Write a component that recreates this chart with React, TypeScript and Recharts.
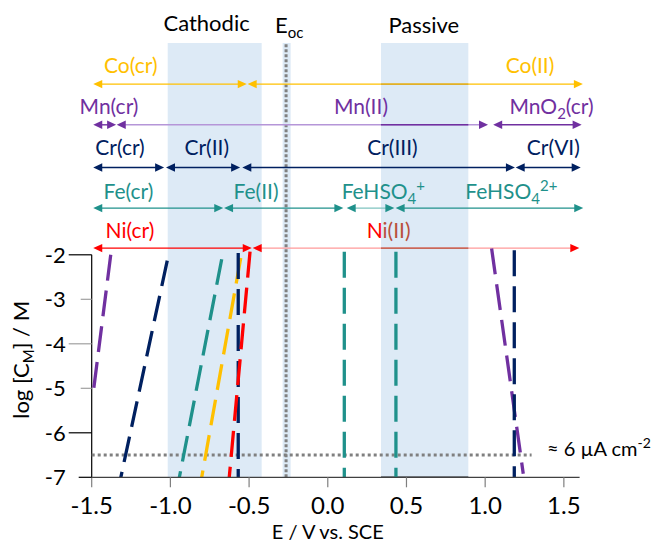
import React from 'react';
import {
  ComposedChart,
  Line,
  XAxis,
  YAxis,
  ReferenceArea,
  ReferenceLine,
  ReferenceDot,
} from 'recharts';

const FONT = 'Lato, "Open Sans", Arial, sans-serif';

// ---------- axes ----------
const potentialTicks = [-1.5, -1.0, -0.5, 0.0, 0.5, 1.0, 1.5];
const logTicks = [-7, -6, -5, -4, -3, -2];
const potentialDomain = [-1.5, 1.6];
const logDomain = [-7, 3.6];

// ---------- solubility boundary lines (E / V vs SCE, log[C_M]) ----------
const mnCrMnII = [
  { E: -1.379, logC: -2.0 },
  { E: -1.494, logC: -5.2 },
];
const crCrCrII = [
  { E: -1.02, logC: -2.13 },
  { E: -1.315, logC: -7.0 },
];
const feCrFeII = [
  { E: -0.674, logC: -2.1 },
  { E: -0.943, logC: -7.0 },
];
const coCrCoII = [
  { E: -0.553, logC: -2.07 },
  { E: -0.801, logC: -7.0 },
];
const crIICrIII = [
  { E: -0.569, logC: -1.96 },
  { E: -0.569, logC: -7.0 },
];
const niCrNiII = [
  { E: -0.494, logC: -1.93 },
  { E: -0.626, logC: -7.0 },
];
const feIIFeHSO4 = [
  { E: 0.105, logC: -1.93 },
  { E: 0.105, logC: -7.0 },
];
const feHSO4Pair = [
  { E: 0.433, logC: -1.93 },
  { E: 0.433, logC: -7.0 },
];
const mnIIMnO2 = [
  { E: 1.041, logC: -1.86 },
  { E: 1.242, logC: -6.92 },
];
const crIIICrVI = [
  { E: 1.185, logC: -1.9 },
  { E: 1.185, logC: -7.0 },
];

// ---------- predominance ranges (E / V vs SCE) ----------
const coRegions = [
  { name: 'Co(cr)', from: -1.49, to: -0.515 },
  { name: 'Co(II)', from: -0.509, to: 1.621 },
];
const mnRegions = [
  { name: 'Mn(cr)', from: -1.49, to: -1.345 },
  { name: 'Mn(II)', from: -1.341, to: 1.018 },
  { name: 'MnO2(cr)', from: 1.051, to: 1.613 },
];
const crRegions = [
  { name: 'Cr(cr)', from: -1.49, to: -1.04 },
  { name: 'Cr(II)', from: -1.028, to: -0.557 },
  { name: 'Cr(III)', from: -0.543, to: 1.189 },
  { name: 'Cr(VI)', from: 1.194, to: 1.607 },
];
const feRegions = [
  { name: 'Fe(cr)', from: -1.49, to: -0.664 },
  { name: 'Fe(II)', from: -0.659, to: 0.099 },
  { name: 'FeHSO4+', from: 0.12, to: 0.423 },
  { name: 'FeHSO42+', from: 0.431, to: 1.623 },
];
const niRegions = [
  { name: 'Ni(cr)', from: -1.49, to: -0.483 },
  { name: 'Ni(II)', from: -0.477, to: 1.598 },
];

// ---------- zones ----------
const cathodicZone = [-1.017, -0.42];
const passiveZone = [0.338, 0.893];
const eocBand = [-0.287, -0.236];
const eocPotential = -0.265;
const currentLimitLog = -6.5;
const currentLimitEnd = 1.295;

// ---------- layout (in axis units) ----------
const shadeTop = 2.757;
const rowLayout = {
  co: { y: 1.836, dy: -11, labelE: [-1.252, 1.285], anchor: ['middle', 'middle'] },
  mn: { y: 0.921, dy: -10.5, labelE: [-1.39, 0.211, 1.422], anchor: ['middle', 'middle', 'middle'] },
  cr: { y: -0.038, dy: -12.5, labelE: [-1.32, -0.769, 0.411, 1.433], anchor: ['middle', 'middle', 'middle', 'middle'] },
  fe: { y: -0.951, dy: -9.5, labelE: [-1.267, -0.456, 0.088, 0.874], anchor: ['middle', 'middle', 'start', 'start'] },
  ni: { y: -1.849, dy: -10, labelE: [-1.257, 0.247], anchor: ['middle', 'start'] },
};

const C_CO = '#FFC000';
const C_MN = '#7030A0';
const C_CR = '#002060';
const C_FE = '#1F918B';
const C_NI = '#FF0000';
const C_NI_DARK = '#B9503C';
const SHADE = '#DDEAF6';
const DOT_GRAY = '#808080';
const LABEL_SIZE = 21;

function arrowShape(lineColor: string, headColor: string) {
  return (p: any) => {
    const { x1, y1, x2, y2 } = p;
    const L = 9;
    const H = 4.2;
    const d = x2 >= x1 ? 1 : -1;
    return (
      <g>
        <line
          x1={x1 + d * L * 0.6}
          y1={y1}
          x2={x2 - d * L * 0.6}
          y2={y2}
          stroke={lineColor}
          strokeWidth={1.4}
        />
        <polygon points={`${x1},${y1} ${x1 + d * L},${y1 - H} ${x1 + d * L},${y1 + H}`} fill={headColor} />
        <polygon points={`${x2},${y2} ${x2 - d * L},${y2 - H} ${x2 - d * L},${y2 + H}`} fill={headColor} />
      </g>
    );
  };
}

function richLabel(name: string) {
  if (name === 'MnO2(cr)')
    return [
      <tspan key="a">MnO</tspan>,
      <tspan key="b" fontSize={15} dy={5}>2</tspan>,
      <tspan key="c" dy={-5}>(cr)</tspan>,
    ];
  if (name === 'FeHSO4+')
    return [
      <tspan key="a">FeHSO</tspan>,
      <tspan key="b" fontSize={15} dy={5}>4</tspan>,
      <tspan key="c" fontSize={15} dy={-13}>+</tspan>,
    ];
  if (name === 'FeHSO42+')
    return [
      <tspan key="a">FeHSO</tspan>,
      <tspan key="b" fontSize={15} dy={5}>4</tspan>,
      <tspan key="c" fontSize={15} dy={-13}>2+</tspan>,
    ];
  if (name === 'Ni(II)')
    return [
      <tspan key="a" fill={C_NI}>N</tspan>,
      <tspan key="b" fill={C_NI_DARK}>i(II)</tspan>,
    ];
  return name;
}

function textShape(
  content: React.ReactNode,
  opts: { dy: number; dx?: number; anchor?: string; color: string; size?: number }
) {
  return (p: any) => (
    <text
      x={p.cx + (opts.dx ?? 0)}
      y={p.cy + opts.dy}
      textAnchor={opts.anchor ?? 'middle'}
      fill={opts.color}
      fontSize={opts.size ?? LABEL_SIZE}
      fontFamily={FONT}
    >
      {content}
    </text>
  );
}

const XTick = (props: any) => {
  const { x, y, payload } = props;
  return (
    <g>
      <line x1={x} y1={y} x2={x} y2={y + 10} stroke="#7F7F7F" strokeWidth={1.2} />
      <text x={x} y={y + 36.5} textAnchor="middle" fontSize={24} fontFamily={FONT} fill="#000">
        {Number(payload.value).toFixed(1)}
      </text>
    </g>
  );
};

const YTick = (props: any) => {
  const { x, y, payload } = props;
  const v = payload.value;
  const len = v === -7 ? 13 : v % 2 === 0 ? 23 : 11;
  const col = v === -2 || v === -6 || v === -7 ? '#000' : '#A0A0A0';
  return (
    <g>
      <line x1={x - len} y1={y} x2={x} y2={y} stroke={col} strokeWidth={1.2} />
      <text x={x - 26} y={y} dy="0.36em" textAnchor="end" fontSize={22} fontFamily={FONT} fill="#000">
        {v}
      </text>
    </g>
  );
};

type Region = { name: string; from: number; to: number };

function renderRow(
  key: string,
  regions: Region[],
  layout: { y: number; dy: number; labelE: number[]; anchor: string[] },
  color: string,
  lineColors?: string[]
) {
  const out: React.ReactNode[] = [];
  regions.forEach((r, i) => {
    out.push(
      <ReferenceLine
        key={`${key}-arrow-${i}`}
        segment={[
          { x: r.from, y: layout.y },
          { x: r.to, y: layout.y },
        ]}
        ifOverflow="visible"
        shape={arrowShape(lineColors ? lineColors[i] : color, color)}
      />
    );
  });
  regions.forEach((r, i) => {
    out.push(
      <ReferenceDot
        key={`${key}-label-${i}`}
        x={layout.labelE[i]}
        y={layout.y}
        r={0}
        ifOverflow="visible"
        shape={textShape(richLabel(r.name), { dy: layout.dy, anchor: layout.anchor[i], color })}
      />
    );
  });
  return out;
}

const lineSeries = [
  { data: mnCrMnII, color: C_MN },
  { data: crCrCrII, color: C_CR },
  { data: feCrFeII, color: C_FE },
  { data: coCrCoII, color: C_CO },
  { data: crIICrIII, color: C_CR },
  { data: niCrNiII, color: C_NI },
  { data: feIIFeHSO4, color: C_FE },
  { data: feHSO4Pair, color: C_FE },
  { data: mnIIMnO2, color: C_MN },
  { data: crIIICrVI, color: C_CR },
];

export default function App() {
  return (
    <div style={{ position: 'absolute', left: 0, top: 0, width: 654, height: 544, background: '#fff' }}>
      <ComposedChart
        width={654}
        height={544}
        margin={{ top: 5.6, right: 74.4, bottom: 36.7, left: 31.7 }}
      >
        <XAxis
          type="number"
          dataKey="E"
          domain={potentialDomain}
          ticks={potentialTicks}
          allowDataOverflow
          interval={0}
          height={30}
          tickSize={0}
          tickMargin={0}
          tickLine={false}
          axisLine={{ stroke: '#404040', strokeWidth: 1.2 }}
          tick={(p: any) => <XTick {...p} />}
        />
        <YAxis
          type="number"
          domain={logDomain}
          ticks={logTicks}
          allowDataOverflow
          interval={0}
          width={60}
          tickSize={0}
          tickMargin={0}
          tickLine={false}
          axisLine={false}
          tick={(p: any) => <YTick {...p} />}
        />

        {/* shaded zones */}
        <ReferenceArea
          x1={cathodicZone[0]}
          x2={cathodicZone[1]}
          y1={-7}
          y2={shadeTop}
          fill={SHADE}
          fillOpacity={1}
          stroke="none"
          ifOverflow="visible"
        />
        <ReferenceArea
          x1={passiveZone[0]}
          x2={passiveZone[1]}
          y1={-7}
          y2={shadeTop}
          fill={SHADE}
          fillOpacity={1}
          stroke="none"
          ifOverflow="visible"
        />
        <ReferenceArea
          x1={eocBand[0]}
          x2={eocBand[1]}
          y1={-7}
          y2={shadeTop}
          fill={SHADE}
          fillOpacity={1}
          stroke="none"
          ifOverflow="visible"
        />
        <ReferenceLine
          segment={[
            { x: passiveZone[0], y: -7 },
            { x: passiveZone[1], y: -7 },
          ]}
          stroke="#222"
          strokeWidth={1.6}
          ifOverflow="visible"
        />

        {/* y axis line from -7 to -2 */}
        <ReferenceLine
          segment={[
            { x: -1.5, y: -7 },
            { x: -1.5, y: -2 },
          ]}
          stroke="#000"
          strokeWidth={1.2}
          ifOverflow="visible"
        />

        {/* E_oc dotted line */}
        <ReferenceLine
          segment={[
            { x: eocPotential, y: -7 },
            { x: eocPotential, y: shadeTop },
          ]}
          stroke={DOT_GRAY}
          strokeWidth={3}
          strokeDasharray="3 2"
          ifOverflow="visible"
        />
        {/* current limit dotted line */}
        <ReferenceLine
          segment={[
            { x: -1.5, y: currentLimitLog },
            { x: currentLimitEnd, y: currentLimitLog },
          ]}
          stroke={DOT_GRAY}
          strokeWidth={3}
          strokeDasharray="3 3"
          ifOverflow="visible"
        />

        {/* predominance arrows */}
        {renderRow('co', coRegions, rowLayout.co, C_CO)}
        <ReferenceLine
          segment={[
            { x: passiveZone[0], y: rowLayout.co.y },
            { x: passiveZone[1], y: rowLayout.co.y },
          ]}
          stroke="#D9A722"
          strokeWidth={1.4}
          ifOverflow="visible"
        />
        {renderRow('mn', mnRegions, rowLayout.mn, C_MN, [C_MN, '#B596D8', C_MN])}
        <ReferenceLine
          segment={[
            { x: passiveZone[0], y: rowLayout.mn.y },
            { x: passiveZone[1], y: rowLayout.mn.y },
          ]}
          stroke={C_MN}
          strokeWidth={1.4}
          ifOverflow="visible"
        />
        {renderRow('cr', crRegions, rowLayout.cr, C_CR)}
        {renderRow('fe', feRegions, rowLayout.fe, C_FE, [C_FE, C_FE, '#7FC3BF', C_FE])}
        {renderRow('ni', niRegions, rowLayout.ni, C_NI, [C_NI, '#FF9A9A'])}
        <ReferenceLine
          segment={[
            { x: passiveZone[0], y: rowLayout.ni.y },
            { x: passiveZone[1], y: rowLayout.ni.y },
          ]}
          stroke={C_NI_DARK}
          strokeWidth={1.4}
          ifOverflow="visible"
        />

        {/* solubility lines */}
        {lineSeries.map((s, i) => (
          <Line
            key={`line-${i}`}
            data={s.data}
            dataKey="logC"
            type="linear"
            stroke={s.color}
            strokeWidth={3.3}
            strokeDasharray="26 10"
            dot={false}
            activeDot={false}
            isAnimationActive={false}
          />
        ))}

        {/* zone titles */}
        <ReferenceDot
          x={-0.77}
          y={shadeTop}
          r={0}
          ifOverflow="visible"
          shape={textShape('Cathodic', { dy: -12.6, color: '#000', size: 22 })}
        />
        <ReferenceDot
          x={0.61}
          y={shadeTop}
          r={0}
          ifOverflow="visible"
          shape={textShape('Passive', { dy: -10.6, color: '#000', size: 22 })}
        />
        <ReferenceDot
          x={eocPotential}
          y={shadeTop}
          r={0}
          ifOverflow="visible"
          shape={textShape(
            [
              <tspan key="a">E</tspan>,
              <tspan key="b" fontSize={15} dy={5}>oc</tspan>,
            ],
            { dy: -10.3, dx: -11, anchor: 'start', color: '#000', size: 22 }
          )}
        />
        <ReferenceDot
          x={1.393}
          y={currentLimitLog}
          r={0}
          ifOverflow="visible"
          shape={textShape(
            [
              <tspan key="a">≈ 6 µA cm</tspan>,
              <tspan key="b" fontSize={14} dy={-8}>-2</tspan>,
            ],
            { dy: 1, anchor: 'start', color: '#000', size: 20 }
          )}
        />

        {/* axis titles */}
        <ReferenceDot
          x={0}
          y={-7}
          r={0}
          ifOverflow="visible"
          shape={textShape('E / V vs. SCE', { dy: 62, color: '#000', size: 20 })}
        />
        <ReferenceDot
          x={-1.5}
          y={-4.36}
          r={0}
          ifOverflow="visible"
          shape={(p: any) => (
            <text
              x={p.cx - 63}
              y={p.cy}
              transform={`rotate(-90, ${p.cx - 63}, ${p.cy})`}
              textAnchor="middle"
              fontSize={22}
              fontFamily={FONT}
              fill="#000"
            >
              <tspan>log [C</tspan>
              <tspan fontSize={15} dy={5}>M</tspan>
              <tspan dy={-5}>] / M</tspan>
            </text>
          )}
        />
      </ComposedChart>
    </div>
  );
}
